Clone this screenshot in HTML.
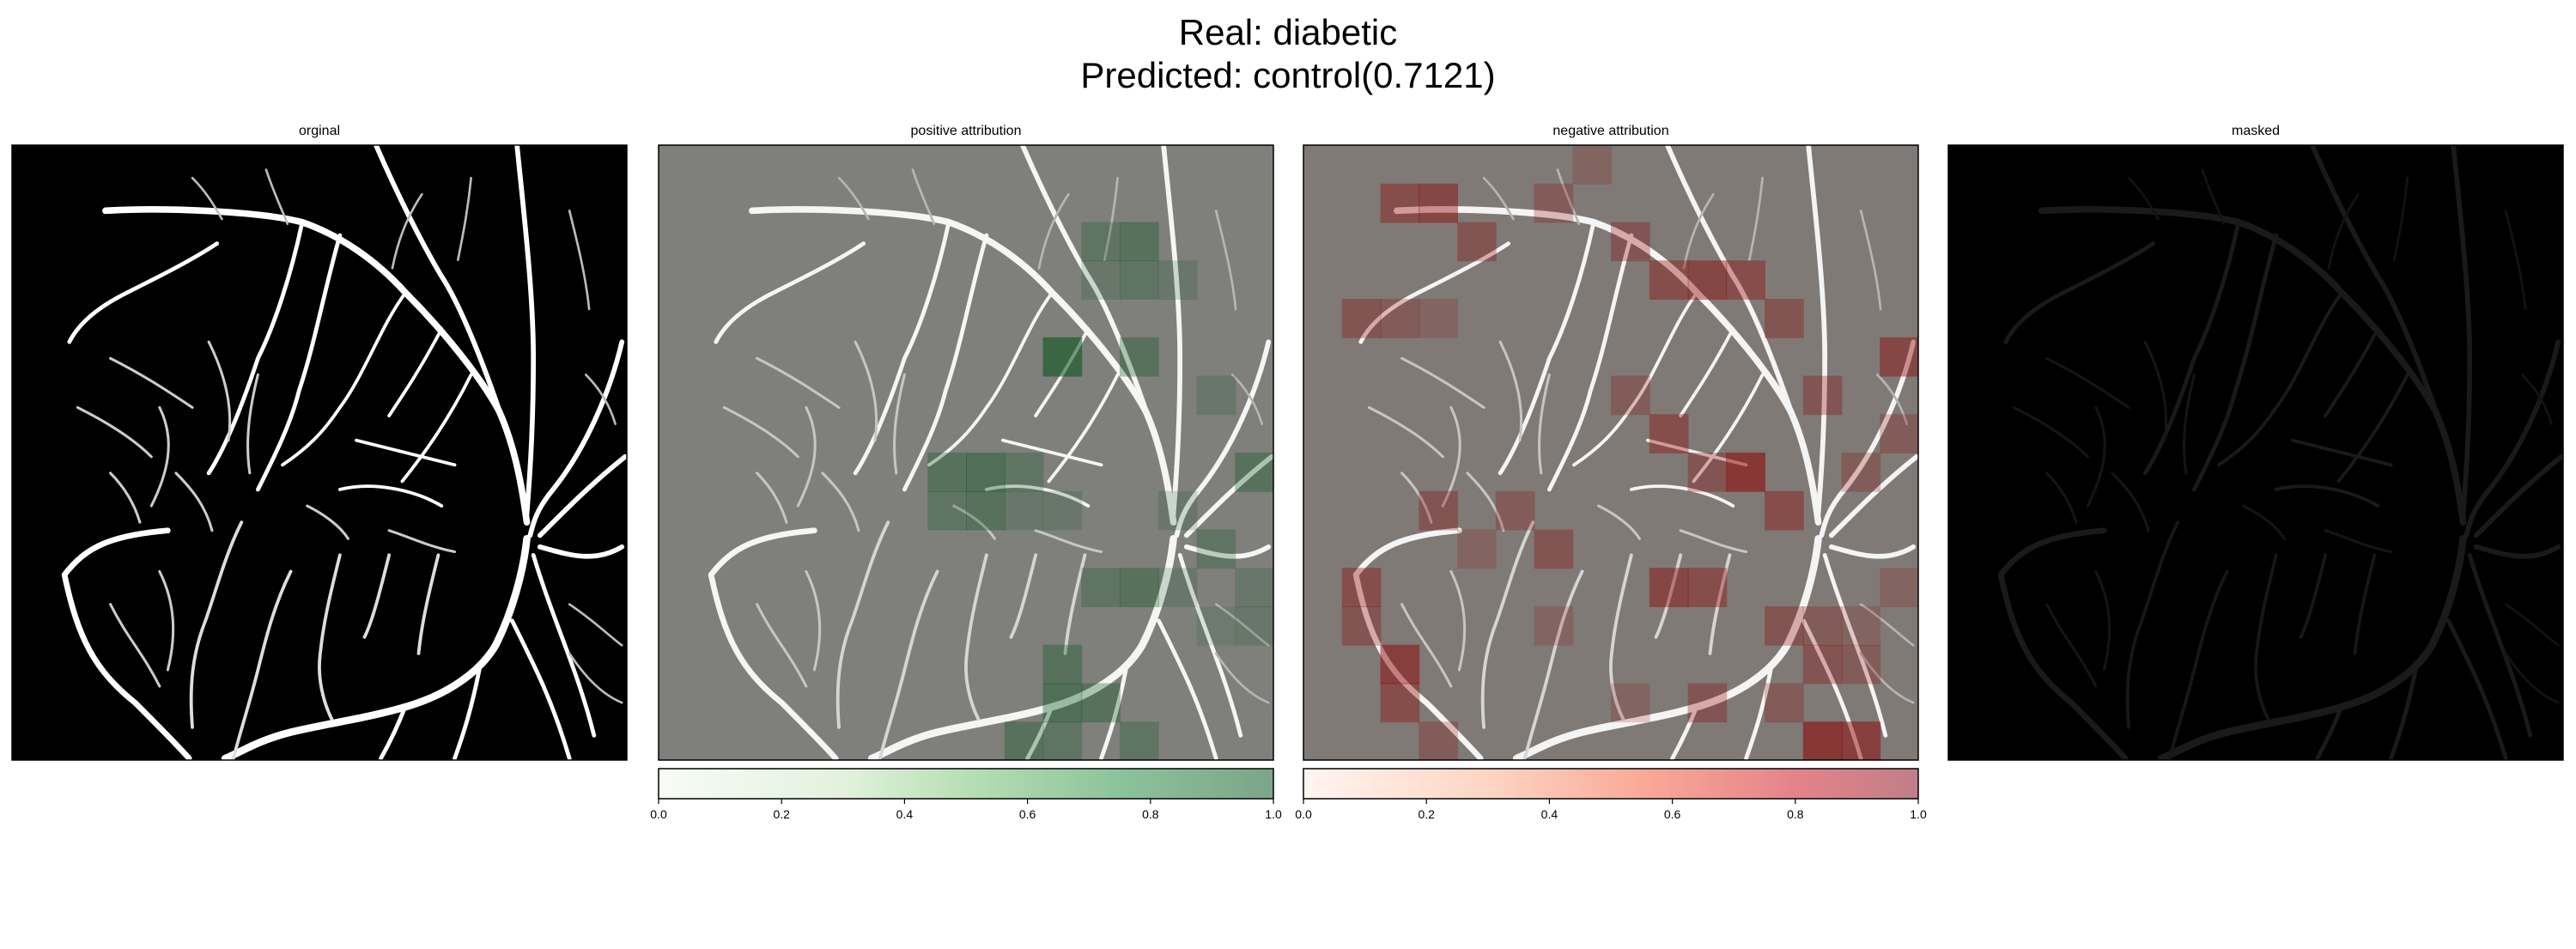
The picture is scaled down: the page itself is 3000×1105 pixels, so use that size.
<!DOCTYPE html>
<html><head><meta charset="utf-8"><style>
body{margin:0;background:#fff;width:3000px;height:1100px;overflow:hidden;font-family:"Liberation Sans","DejaVu Sans",sans-serif}
</style></head><body>
<svg id="fig" width="3000" height="1100" xmlns="http://www.w3.org/2000/svg">
<defs>
<linearGradient id="gGreen" x1="0" x2="1" y1="0" y2="0"><stop offset="0" stop-color="#f7fcf5"/><stop offset="0.3" stop-color="#e2f2dd"/><stop offset="0.5" stop-color="#b7dfb4"/><stop offset="0.75" stop-color="#8cc39b"/><stop offset="1" stop-color="#7ba588"/></linearGradient>
<linearGradient id="gRed" x1="0" x2="1" y1="0" y2="0"><stop offset="0" stop-color="#fff5f0"/><stop offset="0.3" stop-color="#fdd5c3"/><stop offset="0.55" stop-color="#f9aa96"/><stop offset="0.8" stop-color="#e4838a"/><stop offset="1" stop-color="#c07e87"/></linearGradient>
<g id="vessels" fill="none" stroke-linecap="round" stroke-linejoin="round">
<path stroke="#fff" stroke-width="4" d="M57,40 C90,38 150,40 177,47 C200,55 222,70 240,90 C262,112 285,140 297,162 C305,180 310,200 314,230"/>
<path stroke="#fff" stroke-width="4.5" d="M314,240 C312,260 305,285 295,305 C285,322 265,335 242,342 C215,350 195,352 170,358 C150,363 140,370 130,374"/>
<path stroke="#fff" stroke-width="3.5" d="M32,262 C45,245 60,238 95,235 M32,262 C40,300 50,320 75,340 C90,355 100,365 108,374"/>
<path stroke="#fff" stroke-width="3" d="M222,0 C235,30 250,60 262,80 C275,100 290,140 300,170 M308,0 C312,40 318,90 318,130 C318,170 316,200 314,225"/>
<path stroke="#fff" stroke-width="3" d="M372,120 C365,150 350,185 330,210 C320,222 318,230 316,238 M374,190 C355,205 340,220 322,238 M372,245 C355,255 340,250 322,245"/>
<path stroke="#fff" stroke-width="2.5" d="M318,250 C330,290 345,320 355,360 M305,290 C320,320 330,340 340,374 M285,320 C280,345 275,360 270,374 M240,342 C235,355 230,365 225,374"/>
<path stroke="#fff" stroke-width="2.5" d="M177,47 C170,80 160,110 150,130 C140,160 130,185 120,200 M125,60 C110,70 90,80 70,90 C50,100 40,110 35,120 M200,55 C190,90 185,120 175,150 C170,170 160,190 150,210"/>
<path stroke="#fff" stroke-width="2" d="M240,90 C225,110 215,140 200,160 C190,175 180,185 165,195 M262,112 C250,135 240,150 230,165 M280,140 C265,170 250,190 238,205 M200,210 C220,205 245,210 262,220 M210,180 C230,185 250,190 270,195"/>
<path stroke="#ddd" stroke-width="2" d="M140,230 C130,250 125,270 118,290 C110,310 108,330 110,355 M170,260 C160,280 155,300 150,320 C145,340 140,355 135,374 M200,250 C195,270 190,290 188,310 C186,325 190,340 195,350 M230,250 C225,270 220,290 215,300 M260,250 C255,270 250,290 248,310"/>
<path stroke="#ccc" stroke-width="1.6" d="M60,130 C80,140 95,150 110,160 M90,160 C100,180 95,200 85,220 M40,160 C60,170 75,180 85,190 M120,120 C130,140 135,160 132,180 M150,140 C145,160 142,180 145,200 M100,200 C110,210 118,220 122,235 M60,200 C70,210 75,220 78,230 M180,220 C190,225 200,232 205,240 M230,235 C245,240 255,245 270,248 M90,260 C100,280 100,300 95,320 M60,280 C70,300 80,310 90,330"/>
<path stroke="#bbb" stroke-width="1.4" d="M250,30 C240,45 235,60 232,75 M280,20 C278,40 275,55 272,70 M340,40 C345,60 350,80 352,100 M350,140 C360,150 365,160 368,170 M340,280 C355,290 365,300 372,305 M340,310 C350,325 360,335 372,340 M110,20 C120,30 125,40 128,45 M155,15 C160,30 165,40 168,48"/>
</g>
</defs>

<text x="1500" y="52" font-size="42" text-anchor="middle" fill="#000">Real: diabetic</text>
<text x="1500" y="102" font-size="42" text-anchor="middle" fill="#000">Predicted: control(0.7121)</text>

<g id="panels"></g>
</svg>
<script>
const panelTitles=["orginal","positive attribution","negative attribution","masked"];
const panelLeft=[14,767,1518,2269];
const tickLabels=["0.0","0.2","0.4","0.6","0.8","1.0"];
const tickValues=[0,0.2,0.4,0.6,0.8,1.0];
// heatmap cells on 16x16 grid: [col,row,value]
const posCols=[11,12,11,12,13,12,10,7,8,9,10,9,7,8,10,12,11,13,14,15,15,14,10,11,10,9,12,11,14,15,13];
const posRows=[2,2,3,3,3,5,5,8,8,8,9,9,9,9,13,11,11,11,10,11,12,12,14,14,15,15,15,16,6,8,9];
const posVals=[0.4,0.5,0.3,0.4,0.3,0.5,0.9,0.5,0.6,0.4,0.3,0.3,0.4,0.5,0.5,0.5,0.4,0.3,0.4,0.3,0.3,0.2,0.6,0.5,0.4,0.5,0.4,0.3,0.3,0.5,0.3];
const negCols=[2,3,4,6,7,8,9,10,11,12,13,14,15,15,2,1,3,3,5,6,8,9,10,11,12,9,10,12,13,14,14,13,1,1,2,2,3,8,10,12,13,14,15,6,4];
const negRows=[1,1,2,1,0,2,3,3,3,4,6,8,5,7,4,4,4,9,9,10,6,7,8,8,9,11,11,12,12,13,15,15,11,12,13,14,15,14,14,14,13,12,11,12,10];
const negVals=[0.6,0.7,0.5,0.4,0.3,0.5,0.6,0.7,0.6,0.5,0.5,0.4,0.7,0.4,0.4,0.5,0.3,0.5,0.4,0.5,0.4,0.6,0.5,0.9,0.6,0.7,0.6,0.5,0.4,0.4,0.8,0.9,0.6,0.5,0.8,0.6,0.4,0.3,0.5,0.4,0.5,0.3,0.3,0.3,0.3];

const NS="http://www.w3.org/2000/svg";
const top0=169, size=716, grid=16, cell=size/grid, S=size/375;
const root=document.getElementById('panels');
function mk(tag,attrs,parent){const e=document.createElementNS(NS,tag);for(const k in attrs)e.setAttribute(k,attrs[k]);(parent||root).appendChild(e);return e;}
function xCell(c,left){return left+c*cell;}
function yCell(r){return top0+r*cell;}

panelTitles.forEach((t,i)=>{
  const left=panelLeft[i];
  const g=mk('g',{});
  
  
  const tt=mk('text',{x:left+size/2,y:top0-12,'font-size':16,'text-anchor':'middle',fill:'#000'},g);
  tt.textContent=t;
  
  
  const bgc=i===1?'#7f807c':i===2?'#807a76':'#000';
  const bg=mk('rect',{x:left,y:top0,width:size,height:size,fill:bgc},g);
  
  
  const clip=mk('clipPath',{id:'clip'+i},g);
  mk('rect',{x:left,y:top0,width:size,height:size},clip);
  const inner=mk('g',{'clip-path':'url(#clip'+i+')'},g);
  const u=mk('use',{href:'#vessels',transform:`translate(${left},${top0}) scale(${S})`,opacity:i===3?0.1:(i===0?1:0.92)},inner);
  
  
  if(i===1||i===2){
    const cols=i===1?posCols:negCols, rows=i===1?posRows:negRows, vals=i===1?posVals:negVals;
    const col=i===1?'0,80,20':'140,0,0';
    for(let k=0;k<cols.length;k++){
      const r=mk('rect',{x:xCell(cols[k],left),y:yCell(rows[k]),width:cell+1,height:cell+1,fill:`rgba(${col},${vals[k]*0.6})`},inner);
      
      
    }
    const cb=mk('rect',{x:left,y:895,width:size,height:35,fill:i===1?'url(#gGreen)':'url(#gRed)',stroke:'#000','stroke-width':1.5},g);
    
    
    tickValues.forEach((v,j)=>{
      const x=left+v*size;
      mk('line',{x1:x,x2:x,y1:930,y2:936,stroke:'#000','stroke-width':1.2},g);
      const tl=mk('text',{x:x,y:953,'font-size':14,'text-anchor':'middle',fill:'#000'},g);
      tl.textContent=tickLabels[j];
      
      
    });
  }
  const fr=mk('rect',{x:left,y:top0,width:size,height:size,fill:'none',stroke:'#000','stroke-width':1.5},g);
  
  
});
</script>
</body></html>
